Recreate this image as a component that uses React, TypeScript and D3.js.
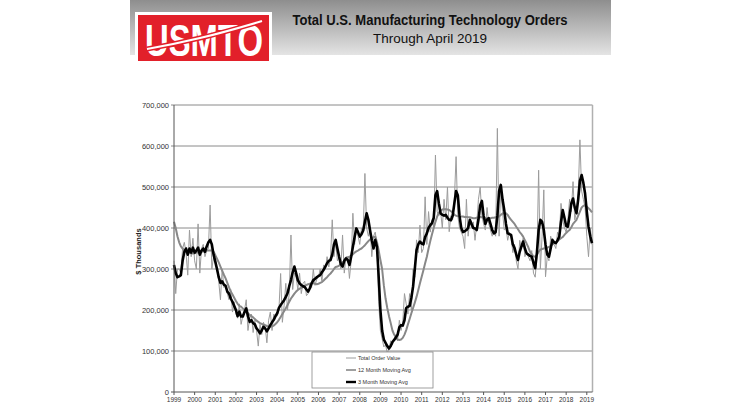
import { useCallback, useEffect, useRef } from 'react';

import { format, line, scaleLinear, select } from 'd3';

// x axis categories (one label per January)
const yearLabels = [
  '1999', '2000', '2001', '2002', '2003', '2004', '2005', '2006', '2007', '2008', '2009',
  '2010', '2011', '2012', '2013', '2014', '2015', '2016', '2017', '2018', '2019',
];

// y axis ticks, $ thousands
const yTicks = [0, 100000, 200000, 300000, 400000, 500000, 600000, 700000];

// monthly values Jan 1999 .. Apr 2019, in thousands of the axis unit (415 = 415,000)
const totalOrders = [
  320, 240, 300, 300, 290, 350, 365, 340, 285, 395, 330, 375,
  320, 300, 410, 290, 350, 360, 330, 345, 350, 456, 300, 330,
  325, 300, 270, 225, 300, 255, 260, 240, 225, 250, 195, 220,
  190, 180, 215, 165, 185, 200, 225, 150, 180, 190, 145, 175,
  150, 112, 165, 140, 170, 160, 120, 175, 195, 150, 190, 185,
  185, 200, 289, 170, 210, 265, 200, 240, 383, 250, 290, 280,
  250, 290, 240, 265, 270, 235, 240, 265, 255, 300, 260, 275,
  280, 300, 270, 310, 300, 330, 305, 330, 420, 330, 365, 320,
  330, 300, 383, 290, 330, 330, 277, 320, 436, 360, 400, 380,
  360, 400, 390, 533, 400, 380, 400, 330, 380, 390, 360, 220,
  150, 130, 110, 115, 95, 105, 125, 115, 130, 140, 125, 175,
  150, 170, 240, 215, 190, 240, 200, 300, 280, 371, 340, 407,
  340, 350, 476, 360, 440, 390, 420, 400, 578, 440, 430, 440,
  400, 470, 420, 500, 391, 430, 420, 470, 574, 430, 400, 390,
  380, 350, 470, 380, 420, 400, 415, 370, 410, 470, 500, 430,
  410, 395, 450, 410, 395, 380, 395, 380, 643, 380, 500, 440,
  395, 400, 370, 390, 380, 340, 360, 320, 300, 370, 350, 375,
  330, 340, 330, 320, 345, 290, 280, 330, 541, 300, 380, 493,
  281, 330, 320, 380, 360, 360, 350, 390, 380, 460, 420, 400,
  390, 420, 470, 440, 513, 420, 440, 480, 615, 490, 470, 450,
  380, 330, 400, 360,
];

const avg12 = [
  415, 400, 380, 365, 355, 350, 345, 342, 340, 340, 338, 338,
  338, 340, 340, 342, 342, 343, 344, 345, 345, 345, 345, 342,
  334, 325, 316, 306, 296, 286, 277, 266, 255, 245, 238, 230,
  222, 215, 210, 208, 204, 200, 196, 192, 188, 185, 182, 178,
  174, 171, 168, 166, 164, 163, 161, 160, 159, 160, 162, 166,
  170, 176, 183, 190, 197, 204, 212, 220, 228, 234, 240, 245,
  249, 252, 254, 257, 259, 261, 263, 264, 265, 265, 264, 263,
  264, 266, 268, 272, 276, 280, 285, 289, 294, 300, 305, 306,
  308, 312, 316, 320, 324, 328, 330, 332, 336, 340, 343, 345,
  348, 350, 354, 358, 363, 368, 372, 375, 378, 379, 366, 345,
  322, 300, 260, 228, 205, 185, 168, 150, 140, 133, 128, 127,
  128, 132, 140, 151, 165, 178, 192, 205, 218, 232, 248, 265,
  281, 297, 314, 330, 350, 368, 385, 400, 415, 428, 438, 442,
  445, 446, 446, 445, 444, 441, 438, 432, 430, 429, 428, 428,
  428, 427, 427, 426, 426, 425, 424, 424, 425, 426, 427, 426,
  425, 424, 424, 424, 424, 425, 425, 426, 427, 428, 432, 435,
  436, 436, 432, 425, 420, 415, 410, 403, 397, 390, 385, 379,
  370, 362, 353, 342, 336, 331, 330, 334, 342, 347, 349, 350,
  351, 352, 354, 356, 360, 363, 365, 368, 372, 375, 378, 383,
  388, 392, 395, 402, 410, 415, 420, 430, 440, 450, 454, 456,
  452, 448, 444, 438,
];

const avg3 = [
  310, 290, 280, 282, 285, 320, 342, 350, 335, 350, 340, 352,
  340, 345, 352, 335, 345, 350, 342, 355, 365, 371, 360, 335,
  318, 300, 280, 266, 270, 262, 259, 245, 240, 228, 220, 210,
  200, 185, 196, 184, 184, 195, 204, 185, 171, 175, 168, 165,
  155, 150, 143, 150, 159, 155, 148, 155, 163, 170, 176, 185,
  192, 205, 212, 218, 224, 232, 241, 258, 273, 292, 306, 290,
  273, 265, 261, 258, 256, 250, 245, 253, 265, 273, 276, 280,
  283, 285, 292, 298, 306, 314, 320, 322, 335, 360, 371, 350,
  330, 312, 306, 320, 326, 322, 310, 330, 354, 378, 399, 390,
  379, 385, 394, 415, 436, 420, 394, 370, 350, 371, 354, 281,
  200, 150, 128, 120, 112, 106, 112, 122, 127, 133, 140, 158,
  163, 162, 175, 205, 208, 210, 230, 257, 300, 346, 360, 367,
  362, 360, 378, 387, 400, 407, 412, 425, 480, 490, 460, 436,
  432, 430, 432, 425, 420, 419, 430, 460, 490, 480, 430, 400,
  390, 392, 395, 400, 420, 410, 400, 399, 395, 420, 455, 466,
  430, 410, 420, 424, 410, 395, 387, 390, 430, 490, 505, 470,
  444, 410, 387, 385, 383, 360, 351, 335, 322, 342, 355, 367,
  350, 338, 335, 332, 330, 315, 302, 340, 395, 420, 415, 395,
  360, 335, 330, 350, 371, 365, 363, 370, 379, 415, 444, 425,
  405, 403, 430, 460, 472, 450, 436, 470, 515, 529, 510, 484,
  440, 403, 380, 363,
];

const seriesNames = ['Total Order Value', '12 Month Moving Avg', '3 Month Moving Avg'];

export default function App() {
  const containerRef = useRef<HTMLDivElement>(null);

  const initChart = useCallback(() => {
    const container = containerRef.current;
    if (!container) return;

    const width = 736,
      height = 414;
    const plot = { left: 174, right: 592.5, top: 105, bottom: 392 };

    const div = select(container);
    div.select('svg').remove();

    const svg = div
      .append('svg')
      .attr('width', width)
      .attr('height', height)
      .style('position', 'absolute')
      .style('left', 0)
      .style('top', 0)
      .style('background', '#fff');

    // header band
    const defs = svg.append('defs');
    const grad = defs
      .append('linearGradient')
      .attr('id', 'band')
      .attr('x1', 0)
      .attr('y1', 0)
      .attr('x2', 0)
      .attr('y2', 1);
    grad.append('stop').attr('offset', '0%').attr('stop-color', '#8e8e8e');
    grad.append('stop').attr('offset', '100%').attr('stop-color', '#e4e4e4');

    svg.append('rect').attr('x', 130).attr('y', 0).attr('width', 481).attr('height', 55).attr('fill', 'url(#band)');

    // logo
    const logo = svg.append('g');
    logo.append('rect').attr('x', 135).attr('y', 12).attr('width', 137).attr('height', 52).attr('fill', '#fff');
    logo.append('rect').attr('x', 138).attr('y', 15).attr('width', 131).attr('height', 46).attr('fill', '#e2202a');
    logo
      .append('text')
      .attr('x', 204)
      .attr('y', 56)
      .attr('text-anchor', 'middle')
      .attr('font-family', 'Liberation Sans Narrow, Liberation Sans, sans-serif')
      .attr('font-weight', 700)
      .attr('font-size', 44)
      .attr('textLength', 118)
      .attr('lengthAdjust', 'spacingAndGlyphs')
      .attr('fill', '#fff')
      .text('USMTO');
    logo
      .append('path')
      .attr('d', 'M147,49 Q175,44 200,38 T262,21')
      .attr('fill', 'none')
      .attr('stroke', '#e2202a')
      .attr('stroke-width', 5);
    logo
      .append('path')
      .attr('d', 'M147,49 Q175,44 200,38 T262,21')
      .attr('fill', 'none')
      .attr('stroke', '#fff')
      .attr('stroke-width', 2.2);

    // titles
    svg
      .append('text')
      .attr('x', 430)
      .attr('y', 25)
      .attr('text-anchor', 'middle')
      .attr('font-family', 'Liberation Sans, Arial, sans-serif')
      .attr('font-weight', 700)
      .attr('font-size', 14)
      .attr('textLength', 275)
      .attr('lengthAdjust', 'spacingAndGlyphs')
      .attr('fill', '#111')
      .text('Total U.S. Manufacturing Technology Orders');
    svg
      .append('text')
      .attr('x', 430)
      .attr('y', 43)
      .attr('text-anchor', 'middle')
      .attr('font-family', 'Liberation Sans, Arial, sans-serif')
      .attr('font-size', 13)
      .attr('textLength', 114)
      .attr('lengthAdjust', 'spacingAndGlyphs')
      .attr('fill', '#111')
      .text('Through April 2019');

    // scales
    const x = scaleLinear()
      .domain([0, totalOrders.length - 1])
      .range([plot.left, plot.left + (totalOrders.length - 1) * 1.72]);
    const y = scaleLinear().domain([0, 700000]).range([plot.bottom, plot.top]);

    const fmt = format(',');

    // grid
    const grid = svg.append('g');
    grid
      .selectAll('line')
      .data(yTicks.slice(1))
      .join('line')
      .attr('x1', plot.left - 3)
      .attr('x2', plot.right)
      .attr('y1', (d) => y(d))
      .attr('y2', (d) => y(d))
      .attr('stroke', '#8a8a8a')
      .attr('stroke-width', 1);

    // right border
    svg
      .append('line')
      .attr('x1', plot.right)
      .attr('x2', plot.right)
      .attr('y1', plot.top)
      .attr('y2', plot.bottom)
      .attr('stroke', '#b0b0b0')
      .attr('stroke-width', 1.5);

    // y labels
    svg
      .append('g')
      .attr('font-family', 'Liberation Sans, Arial, sans-serif')
      .attr('font-size', 7.5)
      .attr('fill', '#333')
      .attr('text-anchor', 'end')
      .selectAll('text')
      .data(yTicks)
      .join('text')
      .attr('x', plot.left - 5)
      .attr('y', (d) => y(d) + 2.6)
      .text((d) => fmt(d));

    svg
      .append('text')
      .attr('transform', `translate(141,${(plot.top + plot.bottom) / 2 + 3}) rotate(-90)`)
      .attr('text-anchor', 'middle')
      .attr('font-family', 'Liberation Sans, Arial, sans-serif')
      .attr('font-weight', 700)
      .attr('font-size', 7.5)
      .attr('fill', '#222')
      .text('$ Thousands');

    // x labels and ticks
    const xg = svg.append('g');
    xg.selectAll('line')
      .data(yearLabels)
      .join('line')
      .attr('x1', (_, i) => x(i * 12))
      .attr('x2', (_, i) => x(i * 12))
      .attr('y1', plot.bottom)
      .attr('y2', plot.bottom + 3)
      .attr('stroke', '#555');
    xg.append('g')
      .attr('font-family', 'Liberation Sans, Arial, sans-serif')
      .attr('font-size', 6.5)
      .attr('fill', '#333')
      .attr('text-anchor', 'middle')
      .selectAll('text')
      .data(yearLabels)
      .join('text')
      .attr('x', (_, i) => x(i * 12))
      .attr('y', plot.bottom + 9.5)
      .text((d) => d);

    // series
    const path = line<number>()
      .x((_, i) => x(i))
      .y((d) => y(d * 1000));

    const lines = svg.append('g').attr('fill', 'none').attr('stroke-linejoin', 'round');
    lines.append('path').attr('d', path(totalOrders)).attr('stroke', '#9c9c9c').attr('stroke-width', 1);
    lines.append('path').attr('d', path(avg12)).attr('stroke', '#888').attr('stroke-width', 2);
    lines.append('path').attr('d', path(avg3)).attr('stroke', '#000').attr('stroke-width', 2.6);

    // axes
    svg
      .append('line')
      .attr('x1', plot.left)
      .attr('x2', plot.left)
      .attr('y1', plot.top)
      .attr('y2', plot.bottom)
      .attr('stroke', '#555');
    svg
      .append('line')
      .attr('x1', plot.left - 3)
      .attr('x2', plot.right)
      .attr('y1', plot.bottom)
      .attr('y2', plot.bottom)
      .attr('stroke', '#555');

    // legend
    const legend = svg.append('g');
    legend
      .append('rect')
      .attr('x', 312)
      .attr('y', 352)
      .attr('width', 121)
      .attr('height', 36)
      .attr('fill', '#fff')
      .attr('stroke', '#888')
      .attr('stroke-width', 0.8);
    const legendStyle = [
      { color: '#9c9c9c', w: 1 },
      { color: '#888', w: 1.6 },
      { color: '#000', w: 2.4 },
    ];
    const item = legend
      .selectAll('g')
      .data(seriesNames)
      .join('g')
      .attr('transform', (_, i) => `translate(0,${358 + i * 12})`);
    item
      .append('line')
      .attr('x1', 346)
      .attr('x2', 356)
      .attr('stroke', (_, i) => legendStyle[i].color)
      .attr('stroke-width', (_, i) => legendStyle[i].w);
    item
      .append('text')
      .attr('x', 358)
      .attr('y', 2)
      .attr('font-family', 'Liberation Sans, Arial, sans-serif')
      .attr('font-size', 5.5)
      .attr('fill', '#333')
      .text((d) => d);
  }, []);

  const destroyChart = useCallback(() => {
    const container = containerRef.current;
    if (!container) return;
    select(container).select('svg').remove();
  }, []);

  useEffect(() => {
    initChart();
    return destroyChart;
  }, [destroyChart, initChart]);

  return <div ref={containerRef} />;
}
